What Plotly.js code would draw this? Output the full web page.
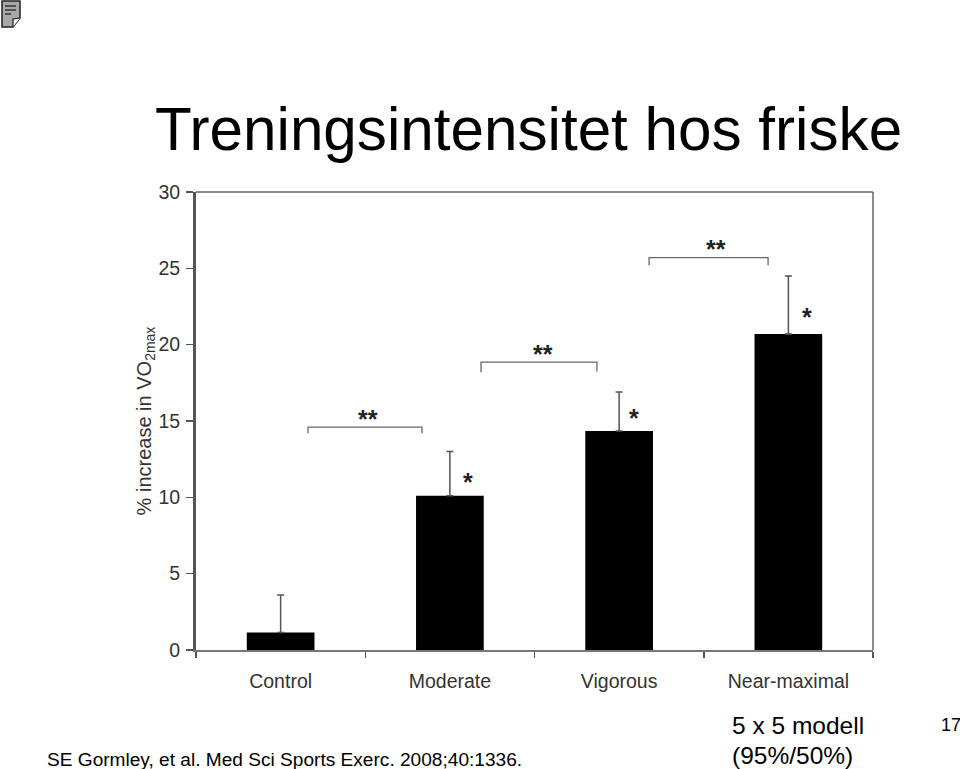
<!DOCTYPE html>
<html>
<head>
<meta charset="utf-8">
<script src="https://cdn.plot.ly/plotly-3.0.1.min.js"></script>
<style>html,body{margin:0;padding:0;background:#fff}#c{width:960px;height:769px}</style>
</head>
<body>
<div id="c"></div>
<script>
var categories = ['Control', 'Moderate', 'Vigorous', 'Near-maximal'];
var values = [1.15, 10.1, 14.35, 20.7];
var errorUp = [2.45, 2.9, 2.55, 3.8];
var yTicks = [0, 5, 10, 15, 20, 25, 30];
var singleStarX = [1.105, 2.09, 3.11];
var singleStarY = [11.0, 15.2, 21.8];
var doubleStarX = [0.515, 1.55, 2.575];
var doubleStarY = [15.15, 19.4, 26.25];
var bracketX0 = [0.162, 1.184, 2.177];
var bracketX1 = [0.835, 1.869, 2.88];
var bracketTop = [14.6, 18.85, 25.7];
var bracketLeftFoot = [14.2, 18.2, 25.2];
var bracketRightFoot = [14.2, 18.25, 25.2];

var W = 960, H = 769, mL = 196, mR = 87, mT = 192, mB = 119;
function px(x) { return (x - mL) / (W - mL - mR); }
function py(y) { return 1 - (y - mT) / (H - mT - mB); }

var shapes = [];
shapes.push({type:'line', xref:'paper', yref:'paper', x0:0, x1:1, y0:1, y1:1, line:{color:'#666', width:1.5}, layer:'above'});
shapes.push({type:'line', xref:'paper', yref:'paper', x0:1, x1:1, y0:0, y1:1, line:{color:'#666', width:1.5}, layer:'above'});
bracketX0.forEach(function (x0, i) {
  var x1 = bracketX1[i], t = bracketTop[i];
  shapes.push({type:'path', xref:'x', yref:'y',
    path:'M' + x0 + ',' + bracketLeftFoot[i] + ' L' + x0 + ',' + t + ' L' + x1 + ',' + t + ' L' + x1 + ',' + bracketRightFoot[i],
    line:{color:'#666', width:1.3}});
});
function iconPath(pts, close) {
  return pts.map(function (p, i) { return (i ? 'L' : 'M') + px(p[0]) + ',' + py(p[1]); }).join(' ') + (close ? ' Z' : '');
}
shapes.push({type:'path', xref:'paper', yref:'paper', path:iconPath([[2,1],[20,1],[20,18],[13,27],[2,27]], true), fillcolor:'#a8a8a8', line:{color:'#222', width:1.5}});
shapes.push({type:'path', xref:'paper', yref:'paper', path:iconPath([[13,27],[13,19],[20,18]], false), fillcolor:'#eeeeee', line:{color:'#222', width:1.2}});
[6, 10, 14].forEach(function (y, i) {
  shapes.push({type:'line', xref:'paper', yref:'paper', x0:px(5), x1:px(i === 2 ? 11 : 16), y0:py(y), y1:py(y), line:{color:'#222', width:1.3}});
});

var annotations = [];
singleStarX.forEach(function (x, i) {
  annotations.push({x:x, y:singleStarY[i], xref:'x', yref:'y', text:'*', showarrow:false, font:{family:'Liberation Sans', size:25, color:'#222', weight:700}});
});
doubleStarX.forEach(function (x, i) {
  annotations.push({x:x, y:doubleStarY[i], xref:'x', yref:'y', text:'**', showarrow:false, font:{family:'Liberation Sans', size:25, color:'#222', weight:700}});
});
function label(text, x, y, size, anchor) {
  annotations.push({xref:'paper', yref:'paper', x:px(x), y:py(y), text:text, showarrow:false, xanchor:anchor || 'left', yanchor:'middle', align:'left',
    font:{family:'Liberation Sans', size:size, color:'#000'}, borderpad:0, borderwidth:0});
}
label('SE Gormley, et al. Med Sci Sports Exerc. 2008;40:1336.', 47, 759, 19.1);
label('5 x 5 modell', 732, 725, 24.5);
label('(95%/50%)', 732, 755, 24.5);
label('17', 941, 725, 18);

var bars = {
  type:'bar', x:categories, y:values, width:0.4,
  marker:{color:'#000', line:{width:0}},
  error_y:{type:'data', symmetric:false, array:errorUp, arrayminus:[0,0,0,0], color:'#555', thickness:1.5, width:3.5}
};
var layout = {
  width:W, height:H, margin:{l:mL, r:mR, t:mT, b:mB, pad:0},
  paper_bgcolor:'#fff', plot_bgcolor:'#fff', showlegend:false,
  font:{family:'Liberation Sans', color:'#333'},
  title:{text:'Treningsintensitet hos friske', x:155/W, xanchor:'left', xref:'container', y:1-129/H, yref:'container', yanchor:'middle',
    font:{family:'Liberation Sans', size:60.2, color:'#000'}, automargin:false},
  xaxis:{type:'category', categoryorder:'array', categoryarray:categories, range:[-0.5,3.5], tickson:'boundaries',
    ticks:'outside', ticklen:6, tickwidth:1.5, tickcolor:'#555', showline:true, linecolor:'#777', linewidth:2,
    showgrid:false, zeroline:false, fixedrange:true, ticklabelstandoff:13, tickfont:{family:'Liberation Sans', size:19.5, color:'#333'}},
  yaxis:{range:[0,30], tickmode:'array', tickvals:yTicks, ticktext:yTicks.map(String), ticks:'outside', ticklen:7, tickwidth:1.5, tickcolor:'#555',
    showline:true, linecolor:'#555', linewidth:3, showgrid:false, zeroline:false, fixedrange:true, ticklabelstandoff:2,
    tickfont:{family:'Liberation Sans', size:19.5, color:'#333'},
    title:{text:'% increase in VO<sub>2max</sub>', standoff:2, font:{family:'Liberation Sans', size:20, color:'#333'}}},
  shapes:shapes, annotations:annotations
};
Plotly.newPlot('c', [bars], layout, {displayModeBar:false, staticPlot:true});
</script>
</body>
</html>
